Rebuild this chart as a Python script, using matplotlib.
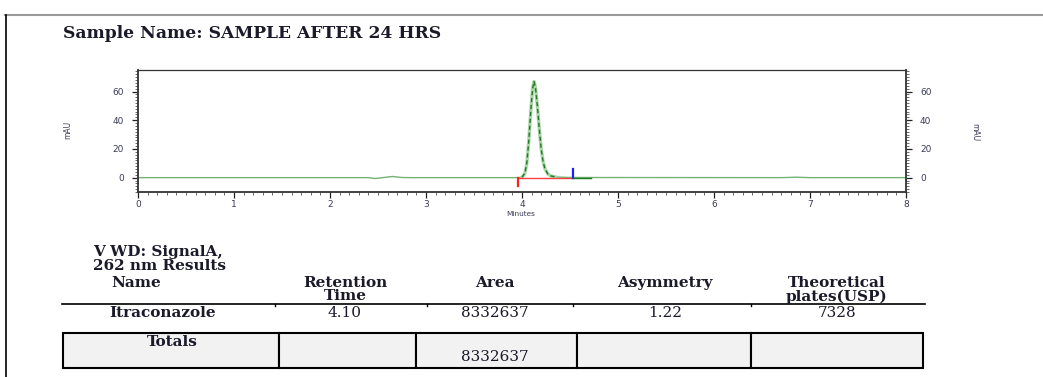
import numpy as np
import matplotlib
matplotlib.use("Agg")
import matplotlib.pyplot as plt
from matplotlib.ticker import MultipleLocator
from matplotlib.lines import Line2D
from matplotlib.patches import Rectangle

# chromatogram trace (minutes, mAU)
trace_t = [0.0, 2.40, 2.47, 2.55, 2.65, 2.75, 2.85, 3.95, 4.00, 4.03, 4.05, 4.07,
           4.09, 4.11, 4.125, 4.14, 4.16, 4.18, 4.20, 4.22, 4.24, 4.27, 4.30,
           4.35, 4.45, 4.55, 6.70, 6.86, 7.00, 8.0]
trace_y = [0.0, 0.0, -0.6, 0.0, 0.8, 0.1, 0.0, 0.0, 0.3, 3.0, 10.0, 25.0,
           45.0, 62.0, 67.0, 63.0, 50.0, 34.0, 20.0, 11.0, 6.0, 2.5, 1.2,
           0.5, 0.2, 0.1, 0.0, 0.3, 0.0, 0.0]
peak_start = 3.96
peak_end = 4.53

title = "Sample Name: SAMPLE AFTER 24 HRS"
col_heads = ["Name", "Retention\nTime", "Area", "Asymmetry", "Theoretical\nplates(USP)"]
row_vals = ["Itraconazole", "4.10", "8332637", "1.22", "7328"]
total_vals = ["Totals", "", "8332637", "", ""]

W, H = 1043, 377
fig = plt.figure(figsize=(W / 100, H / 100), dpi=100)

def fx(px):
    return px / W

def fy(py):
    return 1 - py / H

serif = "DejaVu Serif"
sans = "DejaVu Sans"
lab_col = "#3a3a5a"
txt_col = "#1a1a2a"

# page frame
fig.add_artist(Line2D([fx(5), 1], [fy(14.5), fy(14.5)], color="#999999", lw=1.5))
fig.add_artist(Line2D([fx(6), fx(6)], [fy(14.5), 0], color="black", lw=1.2))

fig.text(fx(63), fy(33), title, fontfamily=serif, fontweight="bold",
         fontsize=12.3, ha="left", va="center", color=txt_col)

# chromatogram
ax = fig.add_axes([fx(138), fy(192), fx(906) - fx(138), fy(70) - fy(192)])
ax.plot(trace_t, trace_y, color="#5aa65a", lw=1.0, alpha=0.85)
mask = [(t >= 3.98 and t <= 4.35) for t in trace_t]
pk_t = [t for t, m in zip(trace_t, mask) if m]
pk_y = [y for y, m in zip(trace_y, mask) if m]
ax.plot(pk_t, pk_y, color="#a8d4a8", lw=2.4)
ax.plot(pk_t, pk_y, color="#1e7a1e", lw=1.0, ls=(0, (3, 2)))
ax.plot([peak_start, peak_end], [0, 0], color="#ff4040", lw=1.0)
ax.plot([peak_start, peak_start], [0, -6], color="#ff2020", lw=1.6)
ax.plot([peak_end, peak_end], [0, 6], color="#2020ff", lw=1.6)
ax.plot([peak_end, 4.72], [0, 0], color="#1e7a1e", lw=1.0)

ax.set_xlim(0, 8)
ax.set_ylim(-10, 75)
ax.set_xticks(range(0, 9))
ax.xaxis.set_minor_locator(MultipleLocator(0.1))
ax.set_yticks([0, 20, 40, 60])
ax.yaxis.set_minor_locator(MultipleLocator(2))
ax.tick_params(axis="both", which="major", direction="out", length=4, width=0.9,
               labelsize=6.5, labelcolor=lab_col, color="#222222")
ax.tick_params(axis="y", which="major", pad=6)
ax.tick_params(axis="x", which="major", pad=1.5)
ax.tick_params(axis="both", which="minor", direction="out", length=2, width=0.6,
               color="#555555")
ax.tick_params(axis="y", which="both", right=True, labelright=True)
ax.tick_params(axis="x", which="both", top=False)
for s in ax.spines.values():
    s.set_color("#333333")
    s.set_linewidth(0.9)
ax.spines["left"].set_linewidth(1.3)
ax.spines["right"].set_linewidth(1.3)
ax.spines["bottom"].set_linewidth(1.3)
for lbl in ax.get_xticklabels() + ax.get_yticklabels():
    lbl.set_fontfamily(sans)

fig.text(fx(521), fy(213.5), "Minutes", fontfamily=sans, fontsize=5.3,
         ha="center", va="center", color=lab_col)
fig.text(fx(68), fy(130), "mAU", fontfamily=sans, fontsize=5.5, rotation=90,
         ha="center", va="center", color=lab_col)
fig.text(fx(975), fy(132), "mAU", fontfamily=sans, fontsize=5.5, rotation=270,
         ha="center", va="center", color=lab_col)

# results table
tbl_font = dict(fontfamily=serif, fontweight="bold", fontsize=11, color=txt_col)
val_font = dict(fontfamily=serif, fontsize=11, color=txt_col)
col_x = [163, 345, 495, 665, 837]

fig.text(fx(93), fy(259), "V WD: SignalA,\n262 nm Results", ha="left", va="center",
         linespacing=1.05, **tbl_font)
for i, h in enumerate(col_heads):
    cx = 136 if i == 0 else col_x[i]
    fig.text(fx(cx), fy(276), h, ha="center", va="top",
             linespacing=0.95, **tbl_font)

fig.add_artist(Line2D([fx(62), fx(925)], [fy(304), fy(304)], color="black", lw=1.2))
for bx in [275, 427, 573, 751]:
    fig.add_artist(Line2D([fx(bx), fx(bx)], [fy(304), fy(306)], color="black", lw=1.0))

for i, v in enumerate(row_vals):
    style = tbl_font if i == 0 else val_font
    fig.text(fx(col_x[i]), fy(313), v, ha="center", va="center", **style)

box_edges = [63, 279, 416, 577, 751, 923]
for i in range(5):
    x0, x1 = box_edges[i], box_edges[i + 1]
    fig.add_artist(Rectangle((fx(x0), fy(368)), fx(x1) - fx(x0), fy(333) - fy(368),
                             facecolor="#f2f2f2", edgecolor="black", lw=1.5))
fig.text(fx(172), fy(342), total_vals[0], ha="center", va="center", **tbl_font)
fig.text(fx(495), fy(357), total_vals[2], ha="center", va="center", **val_font)

fig.savefig("out.png", dpi=100)
